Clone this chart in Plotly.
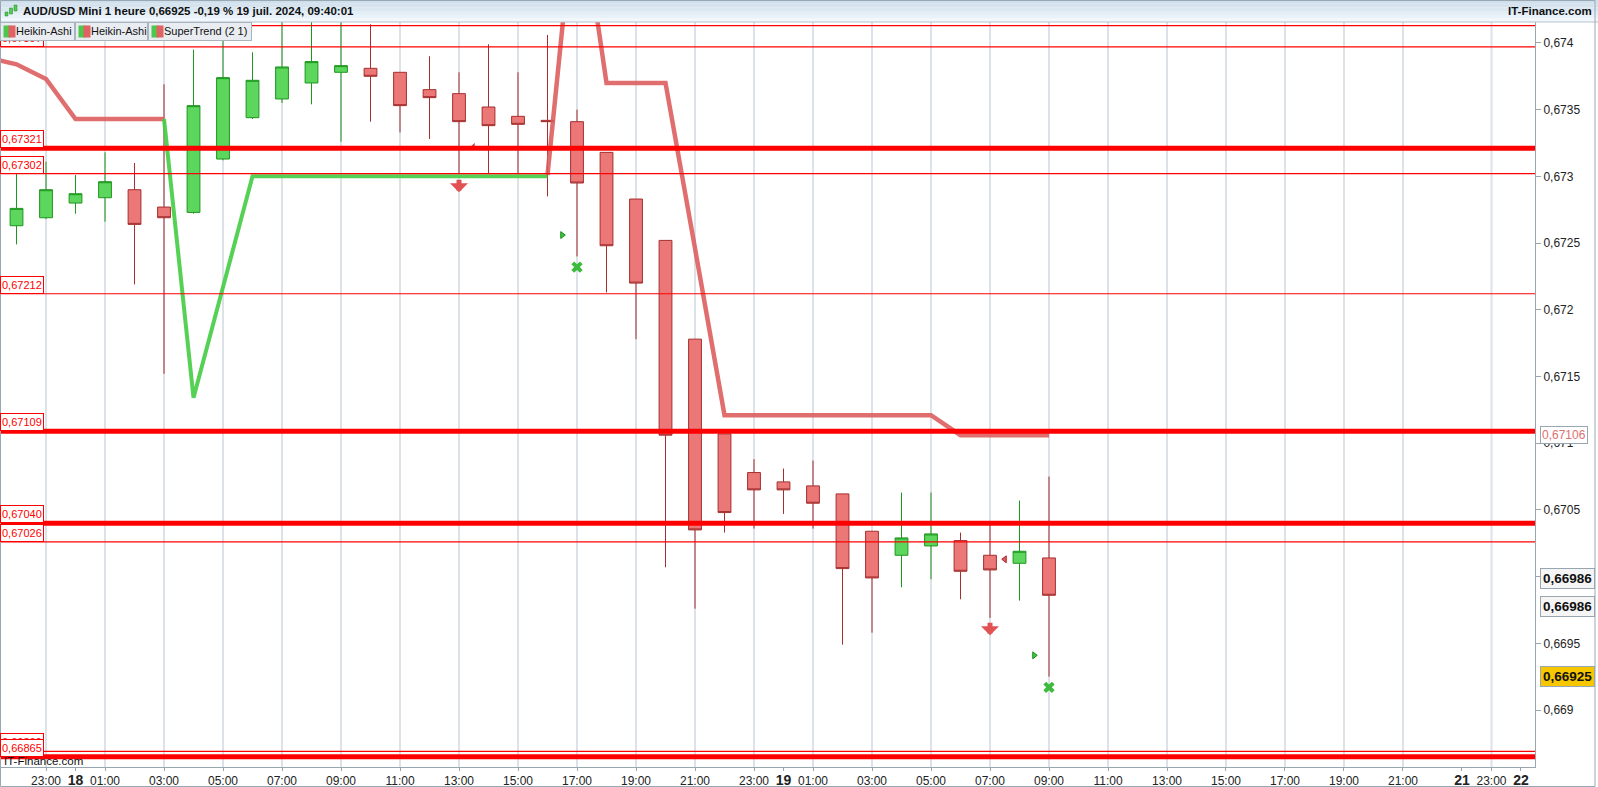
import plotly.graph_objects as go

# hourly Heikin-Ashi candles, hour index 0 = 18 juil. 00:00
hours = list(range(-2, 34))
ha_open = [0.67263, 0.67269, 0.67280, 0.67284, 0.67290, 0.67277, 0.67273, 0.67313, 0.67344,
           0.67358, 0.67370, 0.67378, 0.67381, 0.67378, 0.67365, 0.67362, 0.67352, 0.67345,
           0.67342, 0.67341, 0.67318, 0.67283, 0.67252, 0.67178, 0.67107, 0.67078, 0.67071,
           0.67068, 0.67062, 0.67034, 0.67016, 0.67023, 0.67027, 0.67016, 0.67010, 0.67014]
ha_high = [0.67308, 0.67311, 0.67301, 0.67318, 0.67310, 0.67369, 0.67395, 0.67408, 0.67393,
           0.67418, 0.67418, 0.67418, 0.67414, 0.67378, 0.67390, 0.67378, 0.67399, 0.67378,
           0.67406, 0.67350, 0.67318, 0.67283, 0.67252, 0.67178, 0.67107, 0.67088, 0.67081,
           0.67087, 0.67062, 0.67034, 0.67063, 0.67063, 0.67033, 0.67039, 0.67057, 0.67075]
ha_low = [0.67249, 0.67268, 0.67272, 0.67266, 0.67219, 0.67152, 0.67272, 0.67312, 0.67343,
          0.67355, 0.67354, 0.67326, 0.67341, 0.67333, 0.67328, 0.67302, 0.67302, 0.67302,
          0.67285, 0.67240, 0.67213, 0.67178, 0.67007, 0.66976, 0.67033, 0.67036, 0.67047,
          0.67036, 0.66949, 0.66958, 0.66992, 0.66998, 0.66983, 0.66969, 0.66982, 0.66925]
ha_close = [0.67276, 0.67290, 0.67287, 0.67296, 0.67264, 0.67269, 0.67353, 0.67374, 0.67372,
            0.67382, 0.67386, 0.67383, 0.67375, 0.67353, 0.67359, 0.67341, 0.67338, 0.67339,
            0.67341, 0.67295, 0.67248, 0.67220, 0.67106, 0.67035, 0.67048, 0.67065, 0.67065,
            0.67055, 0.67006, 0.66999, 0.67029, 0.67032, 0.67004, 0.67005, 0.67019, 0.66986]

# SuperTrend (2 1)
st_red1_x = [-3, -2, -1, 0, 1, 2, 3]
st_red1_y = [0.67389, 0.67384, 0.67373, 0.67343, 0.67343, 0.67343, 0.67343]
st_green_x = [3, 4, 5, 6, 7, 8, 9, 10, 11, 12, 13, 14, 15, 16]
st_green_y = [0.67343, 0.67134, 0.67217, 0.67300, 0.67300, 0.67300, 0.67300, 0.67300,
              0.67300, 0.67300, 0.67300, 0.67300, 0.67300, 0.67300]
st_red2_x = [16, 17, 18, 19, 20, 21, 22, 23, 24, 25, 26, 27, 28, 29, 30, 31, 32, 33]
st_red2_y = [0.67301, 0.67521, 0.67370, 0.67370, 0.67370, 0.67246, 0.67121, 0.67121, 0.67121,
             0.67121, 0.67121, 0.67121, 0.67121, 0.67121, 0.67106, 0.67106, 0.67106, 0.67106]

# horizontal levels
thin_levels = [0.67413, 0.67397, 0.67302, 0.67212, 0.67026, 0.66869]
thick_levels = [0.67321, 0.67109, 0.67040, 0.66865]
left_labels = [0.67397, 0.67321, 0.67302, 0.67212, 0.67109, 0.67040, 0.67026, 0.66869, 0.66865]

# signals
arrow_x = [13, 31]
arrow_y = [0.67288, 0.66956]
tri_right_x = [16.5, 32.5]
tri_right_y = [0.67256, 0.66941]
cross_x = [17, 33]
cross_y = [0.67232, 0.66917]
tri_left_x = [31.5]
tri_left_y = [0.67013]
tri_small_x = [13.48]
tri_small_y = [0.67323]

# axes
y_ticks = [0.669, 0.6695, 0.670, 0.6705, 0.671, 0.6715, 0.672, 0.6725, 0.673, 0.6735, 0.674]
x_tick_vals = [-1, 0, 1, 3, 5, 7, 9, 11, 13, 15, 17, 19, 21, 23, 24, 25, 27, 29, 31, 33,
               35, 37, 39, 41, 43, 45, 47, 48, 49]
x_tick_text = ['23:00', '18', '01:00', '03:00', '05:00', '07:00', '09:00', '11:00', '13:00',
               '15:00', '17:00', '19:00', '21:00', '23:00', '19', '01:00', '03:00', '05:00',
               '07:00', '09:00', '11:00', '13:00', '15:00', '17:00', '19:00', '21:00', '21',
               '23:00', '22']
x_grid = [-1, 1, 3, 5, 7, 9, 11, 13, 15, 17, 19, 21, 23, 25, 27, 29, 31, 33, 35, 37, 39, 41,
          43, 45, 48]

last_label = 0.67106
close_label = 0.66986
price_label = 0.66925

W, H = 1598, 787
ML, MR, MT, MB = 0, 63, 22, 20
PW, PH = W - ML - MR, H - MT - MB


def px(x):
    return (x - ML) / PW


def py(y):
    return (H - MB - y) / PH


def tick_fmt(v):
    s = ('%.5f' % v).rstrip('0')
    return s.replace('.', ',')


def lvl_fmt(v):
    return ('%.5f' % v).replace('.', ',')


fig = go.Figure()

fig.add_trace(go.Candlestick(
    x=hours, open=ha_open, high=ha_high, low=ha_low, close=ha_close,
    increasing=dict(line=dict(color='#1e961e', width=1), fillcolor='#5dd65d'),
    decreasing=dict(line=dict(color='#a52f2f', width=1), fillcolor='#ec7777'),
    whiskerwidth=0, showlegend=False, hoverinfo='skip'))

fig.add_trace(go.Scatter(x=st_red1_x, y=st_red1_y, mode='lines',
                         line=dict(color='rgba(220,90,90,0.88)', width=4.5), hoverinfo='skip'))
fig.add_trace(go.Scatter(x=st_green_x, y=st_green_y, mode='lines',
                         line=dict(color='rgba(70,205,70,0.92)', width=4), hoverinfo='skip'))
fig.add_trace(go.Scatter(x=st_red2_x, y=st_red2_y, mode='lines',
                         line=dict(color='rgba(220,90,90,0.88)', width=4.5), hoverinfo='skip'))

fig.add_trace(go.Scatter(x=tri_right_x, y=tri_right_y, mode='markers',
                         marker=dict(symbol='triangle-right', size=6, color='#3cc83c',
                                     line=dict(color='#1a8a1a', width=1)), hoverinfo='skip'))
fig.add_trace(go.Scatter(x=cross_x, y=cross_y, mode='markers',
                         marker=dict(symbol='x', size=10, color='#3dbb3d',
                                     line=dict(width=0)), hoverinfo='skip'))
fig.add_trace(go.Scatter(x=tri_left_x, y=tri_left_y, mode='markers',
                         marker=dict(symbol='triangle-left', size=6, color='#e05555',
                                     line=dict(color='#b02a2a', width=1)), hoverinfo='skip'))
fig.add_trace(go.Scatter(x=tri_small_x, y=tri_small_y, mode='markers',
                         marker=dict(symbol='triangle-se', size=5, color='#d04040'),
                         hoverinfo='skip'))

shapes = []
# header gradient
bands = ['#f1f7fc', '#e9f2f9', '#e2edf6', '#dbe8f2', '#d5e3ef', '#d0dfec']
for i, c in enumerate(bands):
    shapes.append(dict(type='rect', xref='paper', yref='paper', x0=px(0), x1=px(W),
                       y0=py(22 - i * 22 / len(bands)), y1=py(22 - (i + 1) * 22 / len(bands)),
                       fillcolor=c, line=dict(width=0), layer='below'))
shapes.append(dict(type='line', xref='paper', yref='paper', x0=px(0), x1=px(W),
                   y0=py(22), y1=py(22), line=dict(color='#b4c2ce', width=1)))
# vertical grid
for g in x_grid:
    shapes.append(dict(type='line', xref='x', yref='paper', x0=g, x1=g, y0=0, y1=1,
                       line=dict(color='#dde1e8', width=2), layer='below'))
for lv in thin_levels:
    shapes.append(dict(type='line', xref='paper', yref='y', x0=0, x1=1, y0=lv, y1=lv,
                       line=dict(color='#ff0000', width=1.2), layer='above'))
for lv in thick_levels:
    shapes.append(dict(type='line', xref='paper', yref='y', x0=0, x1=1, y0=lv, y1=lv,
                       line=dict(color='#ff0000', width=5), layer='above'))
# header icon
for i, (a, b) in enumerate([(12, 16), (8, 14), (5, 11)]):
    x0 = 5 + i * 4.5
    shapes.append(dict(type='rect', xref='paper', yref='paper', x0=px(x0), x1=px(x0 + 3),
                       y0=py(a), y1=py(b), fillcolor='#55c855',
                       line=dict(color='#228822', width=0.5)))
# outer frame
shapes.append(dict(type='rect', xref='paper', yref='paper', x0=px(0.5), x1=px(W - 3),
                   y0=py(H - 0.5), y1=py(0.5), line=dict(color='#9aa8b4', width=1)))

ann = []
ann.append(dict(text='<b>AUD/USD Mini 1 heure 0,66925 -0,19 % 19 juil. 2024, 09:40:01</b>',
                xref='paper', yref='paper', x=px(21), y=py(11), xanchor='left', yanchor='middle',
                showarrow=False, font=dict(size=11.5, color='#111')))
ann.append(dict(text='<b>IT-Finance.com</b>', xref='paper', yref='paper', x=px(W - 4), y=py(11),
                xanchor='right', yanchor='middle', showarrow=False,
                font=dict(size=11.5, color='#111')))
ann.append(dict(text='IT-Finance.com', xref='paper', yref='paper', x=px(2), y=py(761),
                xanchor='left', yanchor='middle', showarrow=False,
                font=dict(size=11.5, color='#111')))

for lv in left_labels:
    ann.append(dict(text=lvl_fmt(lv), xref='paper', yref='y', x=0, y=lv, xanchor='left',
                    yanchor='bottom', showarrow=False, width=40, height=14, align='left',
                    bgcolor='white', bordercolor='#ff0000', borderwidth=1, borderpad=1,
                    font=dict(size=11, color='#ff0000')))

for ax_, ay_ in zip(arrow_x, arrow_y):
    ann.append(dict(text='', x=ax_, y=ay_, xref='x', yref='y', showarrow=True, ax=0, ay=-14,
                    arrowhead=1, arrowsize=0.6, arrowwidth=5, arrowcolor='#e25252'))

# legend boxes
legend = [('Heikin-Ashi', 0, 75), ('Heikin-Ashi', 75, 148), ('SuperTrend (2 1)', 148, 252)]
for name, a, b in legend:
    ann.append(dict(text=' ', xref='paper', yref='paper', x=px(a), y=py(22), xanchor='left',
                    yanchor='top', showarrow=False, width=b - a - 4, height=15,
                    bgcolor='#e9edf1', bordercolor='#a9b4bf', borderwidth=1, borderpad=1))
    ann.append(dict(text=name, xref='paper', yref='paper', x=px(a + 14), y=py(31),
                    xanchor='left', yanchor='middle', showarrow=False,
                    font=dict(size=11, color='#111')))
    ann.append(dict(text=' ', xref='paper', yref='paper', x=px(a + 3), y=py(31), xanchor='left',
                    yanchor='middle', showarrow=False, width=4, height=9, bgcolor='#4cc84c'))
    ann.append(dict(text=' ', xref='paper', yref='paper', x=px(a + 8), y=py(31), xanchor='left',
                    yanchor='middle', showarrow=False, width=4, height=9, bgcolor='#e06262'))

# right price labels
ann.append(dict(text=lvl_fmt(last_label), xref='paper', yref='y', x=px(1540), y=last_label,
                xanchor='left', yanchor='middle', showarrow=False, bgcolor='white',
                bordercolor='#98a6b2', borderwidth=1, borderpad=1,
                font=dict(size=12, color='#e07070')))
for sh in (17, -11):
    ann.append(dict(text='<b>' + lvl_fmt(close_label) + '</b>', xref='paper', yref='y',
                    x=px(1540), y=close_label, yshift=sh, xanchor='left', yanchor='middle',
                    showarrow=False, height=15, bgcolor='#f5f5f5', bordercolor='#98a6b2',
                    borderwidth=1, borderpad=2, font=dict(size=13.5, color='#111')))
ann.append(dict(text='<b>' + lvl_fmt(price_label) + '</b>', xref='paper', yref='y', x=px(1540),
                y=price_label, xanchor='left', yanchor='middle', showarrow=False, height=15,
                bgcolor='#f6c700', bordercolor='#98a6b2', borderwidth=1, borderpad=2,
                font=dict(size=13.5, color='#111')))

tick_text = []
for t in x_tick_text:
    if ':' in t:
        tick_text.append(t)
    else:
        tick_text.append('<span style="font-size:14px"><b>%s</b></span>' % t)

fig.update_layout(
    width=W, height=H,
    margin=dict(l=ML, r=MR, t=MT, b=MB),
    paper_bgcolor='white', plot_bgcolor='white',
    showlegend=False, boxgap=0.38,
    font=dict(family='Liberation Sans, Arial, sans-serif', size=12, color='#222'),
    xaxis=dict(range=[-2.56, 49.475], tickvals=x_tick_vals, ticktext=tick_text,
               showgrid=False, zeroline=False, showline=True, linecolor='#98a6b2',
               ticks='outside', ticklen=3, tickcolor='#98a6b2', rangeslider=dict(visible=False),
               tickfont=dict(size=12, color='#222')),
    yaxis=dict(side='right', range=[0.668573, 0.674157], tickvals=y_ticks,
               ticktext=[tick_fmt(v) for v in y_ticks], showgrid=False, zeroline=False,
               showline=True, linecolor='#98a6b2', ticks='outside', ticklen=5,
               tickcolor='#98a6b2', tickfont=dict(size=12, color='#222')),
    shapes=shapes, annotations=ann,
)

fig.write_html('out.html', config={'displayModeBar': False},
               post_script="document.body.style.margin='0px';")
